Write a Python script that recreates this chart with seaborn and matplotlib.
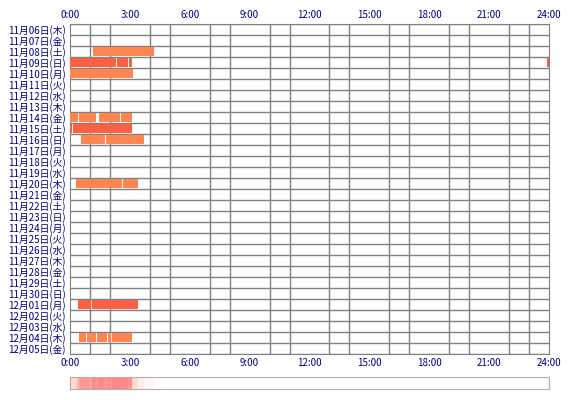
import numpy as np
import matplotlib
matplotlib.use("Agg")
import matplotlib.pyplot as plt
import seaborn as sns
from matplotlib.colors import LinearSegmentedColormap

sns.set_style("white")
plt.rcParams['font.family'] = ['Noto Sans CJK JP', 'DejaVu Sans']

dates = ["11月06日(木)","11月07日(金)","11月08日(土)","11月09日(日)","11月10日(月)",
         "11月11日(火)","11月12日(水)","11月13日(木)","11月14日(金)","11月15日(土)",
         "11月16日(日)","11月17日(月)","11月18日(火)","11月19日(水)","11月20日(木)",
         "11月21日(金)","11月22日(土)","11月23日(日)","11月24日(月)","11月25日(火)",
         "11月26日(水)","11月27日(木)","11月28日(金)","11月29日(土)","11月30日(日)",
         "12月01日(月)","12月02日(火)","12月03日(水)","12月04日(木)","12月05日(金)"]
# (row index, start hour, end hour, kind) kind 0=orange, 1=red
seg_row   = [2, 3, 3, 3, 3, 4, 8, 8, 8, 8, 9, 9, 10, 10, 14, 14, 25, 25, 28, 28, 28, 28, 28]
seg_start = [1.15, 0.0, 2.33, 2.97, 23.9, 0.0, 0.0, 0.45, 1.45, 2.55, 0.0, 0.15, 0.55, 1.8, 0.3, 2.65, 0.4, 1.1, 0.45, 0.85, 1.35, 1.9, 2.1]
seg_end   = [4.2, 2.3, 2.93, 3.1, 24.0, 3.15, 0.4, 1.3, 2.5, 3.1, 0.1, 3.1, 1.75, 3.7, 2.6, 3.4, 1.05, 3.4, 0.8, 1.3, 1.85, 2.05, 3.1]
seg_kind  = [0, 1, 1, 1, 1, 0, 0, 0, 0, 0, 1, 1, 0, 0, 0, 0, 1, 1, 0, 0, 0, 0, 0]
hour_ticks = [0, 3, 6, 9, 12, 15, 18, 21, 24]
hour_labels = ["0:00","3:00","6:00","9:00","12:00","15:00","18:00","21:00","24:00"]

colors = ["#ff8550", "#fb6045"]
navy = "#000080"

fig = plt.figure(figsize=(5.7, 4.0), dpi=100)
ax = fig.add_axes([70/570, 1-354/400, 479/570, 330/400])
for r, s, e, k in zip(seg_row, seg_start, seg_end, seg_kind):
    ax.barh(r, e - s, left=s, height=0.9, color=colors[k], linewidth=0, zorder=3)
ax.set_xlim(0, 24)
ax.set_ylim(len(dates) - 0.5, -0.5)
ax.set_yticks(range(len(dates)))
ax.set_yticklabels(dates, fontsize=7, color=navy)
ax.set_xticks(hour_ticks)
ax.set_xticklabels(hour_labels, fontsize=7, color=navy)
ax.set_xticks(range(25), minor=True)
ax.set_yticks(np.arange(-0.5, len(dates)), minor=True)
ax.grid(which="minor", color="#808080", linewidth=1, zorder=1)
ax.grid(which="major", visible=False)
ax.tick_params(which="both", length=0, pad=3)
ax.tick_params(axis="x", labeltop=True, labelbottom=True)
ax.set_axisbelow(True)
for sp in ax.spines.values():
    sp.set_color("#808080")

# frequency strip
bins = np.linspace(0, 24, 241)
counts = np.zeros(240)
centers = (bins[:-1] + bins[1:]) / 2
for s, e in zip(seg_start, seg_end):
    counts += (centers >= s) & (centers < e)
cmap = LinearSegmentedColormap.from_list("f", ["#ffffff", "#ffd8c8", "#ff8888"])
ax2 = fig.add_axes([70/570, 1-389/400, 479/570, 12/400])
ax2.imshow(counts[None, :], aspect="auto", cmap=cmap, extent=[0, 24, 0, 1], vmin=0, vmax=counts.max())
ax2.set_xticks([]); ax2.set_yticks([])
for sp in ax2.spines.values():
    sp.set_color("#b0b0b0")

fig.savefig("out.png", dpi=100)
